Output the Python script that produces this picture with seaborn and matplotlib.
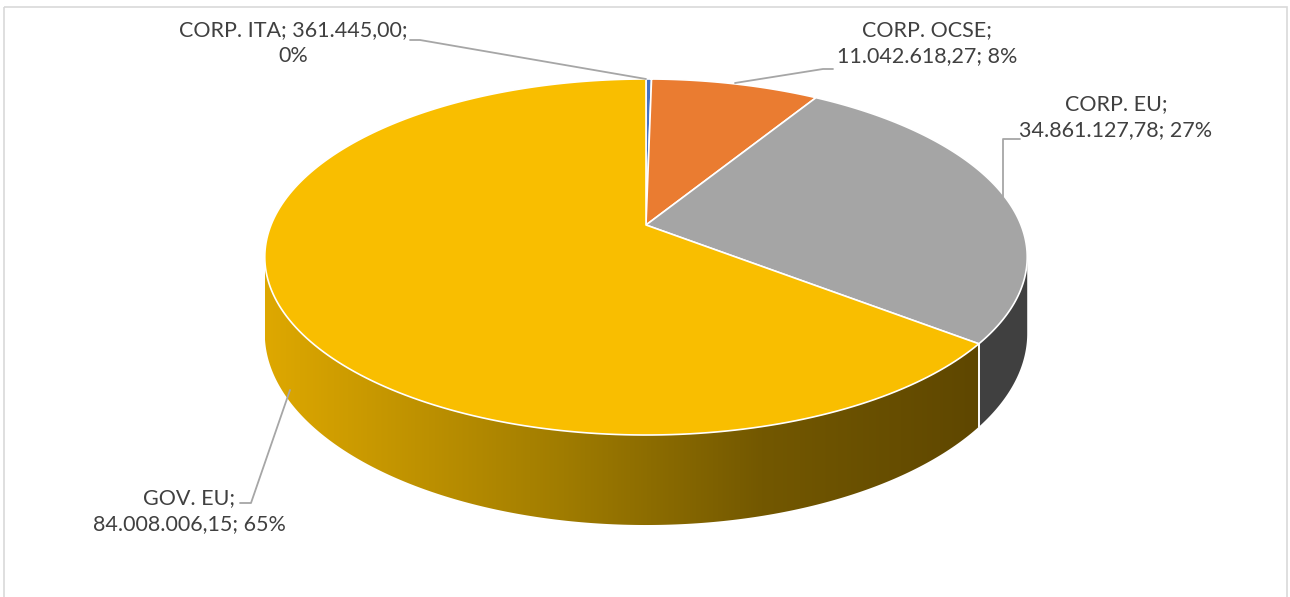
import numpy as np
import matplotlib
matplotlib.use("Agg")
import matplotlib.pyplot as plt
import seaborn as sns
from matplotlib.patches import Polygon, Rectangle
from matplotlib.colors import LinearSegmentedColormap

# dati del grafico
categories = ["CORP. ITA", "CORP. OCSE", "CORP. EU", "GOV. EU"]
values = [361445.00, 11042618.27, 34861127.78, 84008006.15]
shares = [0, 8, 27, 65]  # percentuali come mostrate nelle etichette

sns.set_theme(style="white")
plt.rcParams['font.family'] = ['Lato', 'DejaVu Sans']
colors = sns.color_palette(["#4472C4", "#EA7C31", "#A5A5A5", "#F9BE00"])


def it_num(v):
    s = f"{v:,.2f}"
    return s.replace(",", "X").replace(".", ",").replace("X", ".")


labels = [f"{c}; {it_num(v)}; {p}%" for c, v, p in zip(categories, values, shares)]

# geometria torta 3D (coordinate pixel)
cx, cy = 646, 225
a = 375
g = 0.1798
d = -131.8
depth = 90


def proj(theta, z=0.0):
    t = np.radians(theta)
    u, v = np.sin(t), np.cos(t)
    w = 1 + g * v
    x = cx + a * u / w
    y = (d * v + cy) / w + z * depth * (1 - g) / w
    return x, y


def arc(t1, t2, z=0.0, n=200):
    th = np.linspace(t1, t2, n)
    x, y = proj(th, z)
    return np.column_stack([x, y])


fig = plt.figure(figsize=(12.9, 5.97), dpi=100)
ax = fig.add_axes([0, 0, 1, 1])

# angoli delle fette (senso orario dalle ore 12)
tot = sum(values)
bounds = np.concatenate([[0], np.cumsum(values) / tot * 360])

# lati visibili
vis1 = 90 + np.degrees(np.arcsin(g))
vis2 = 360 - vis1
cmap = LinearSegmentedColormap.from_list(
    "side", [(0, "#DEA800"), (0.39, "#A07C00"), (0.65, "#735800"), (1, "#5A4300")])
for i in range(len(values)):
    t1, t2 = max(bounds[i], vis1), min(bounds[i + 1], vis2)
    if t2 <= t1:
        continue
    pts = np.vstack([arc(t1, t2), arc(t2, t1, 1)])
    if i == 3:
        poly = Polygon(pts, closed=True, facecolor="none", edgecolor="none")
        ax.add_patch(poly)
        grad = np.linspace(0, 1, 256).reshape(1, -1)
        im = ax.imshow(grad, extent=(265, 1030, 540, 240), cmap=cmap, aspect="auto", zorder=1)
        im.set_clip_path(poly)
    else:
        ax.add_patch(Polygon(pts, closed=True, facecolor="#404040", edgecolor="none", zorder=1))
    # bordi verticali
    for t in (t1, t2):
        if vis1 < t < vis2:
            x0, y0 = proj(t)
            x1, y1 = proj(t, 1)
            ax.plot([x0, x1], [y0, y1], color="white", lw=1.2, zorder=2)

# facce superiori
for i in range(len(values)):
    pts = np.vstack([[cx, cy], arc(bounds[i], bounds[i + 1])])
    ax.add_patch(Polygon(pts, closed=True, facecolor=colors[i], edgecolor="white",
                         lw=1.2, joinstyle="round", zorder=3))

# etichette e linee guida
lead = "#A6A6A6"
txt = dict(ha="center", va="center", color="#404040", fontsize=15.5, linespacing=1.33, zorder=5)
ax.text(293, 43, labels[0].replace("; 0%", ";\n0%"), **txt)
ax.text(927, 43, labels[1].replace("; 11", ";\n11"), **txt)
ax.text(1116, 117, labels[2].replace("; 34", ";\n34"), **txt)
ax.text(189, 511, labels[3].replace("; 84", ";\n84"), **txt)

ax.plot([410, 420, 646], [40, 40, 79], color=lead, lw=1.3, zorder=4)
ax.plot([833, 823, 735], [69, 69, 83], color=lead, lw=1.3, zorder=4)
ax.plot([1020, 1003, 1003], [139, 139, 197], color=lead, lw=1.3, zorder=4)
ax.plot([240, 251, 290], [503, 503, 390], color=lead, lw=1.3, zorder=4)

ax.add_patch(Rectangle((4, 7), 1283, 600, facecolor="none", edgecolor="#D9D9D9", lw=1.2, zorder=0))

ax.set_xlim(0, 1290)
ax.set_ylim(597, 0)
ax.axis("off")
fig.savefig("out.png", dpi=100)
